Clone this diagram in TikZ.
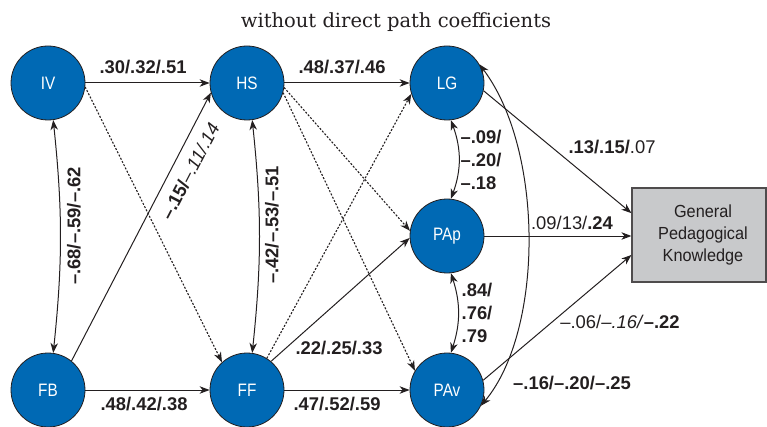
\documentclass[tikz,border=0pt]{standalone}
\usepackage{fontspec}
\setsansfont{Liberation Sans}
\newfontfamily\condfont{Liberation Sans}[FakeStretch=0.85]
\newfontfamily\boxfont{Liberation Sans}[FakeStretch=0.93]
\newfontfamily\subfont{DejaVu Serif}
\usetikzlibrary{arrows.meta,calc}
\definecolor{nodeblue}{RGB}{0,105,180}
\definecolor{boxgray}{RGB}{200,201,203}
\definecolor{txt}{RGB}{35,31,32}
\tikzset{
  var/.style={circle,draw=txt,line width=0.8pt,fill=nodeblue,minimum size=74pt,inner sep=0pt,
    text=white,font=\condfont\fontsize{18}{20}\selectfont},
  tip/.style={-{Stealth[length=10pt,width=7.5pt,inset=3pt]}},
  arr/.style={tip,line width=1pt,draw=txt},
  dotarr/.style={tip,line width=1.1pt,draw=txt,dash pattern=on 2pt off 1.6pt},
  dbl/.style={{Stealth[length=10pt,width=7.5pt,inset=3pt]}-{Stealth[length=10pt,width=7.5pt,inset=3pt]},line width=1pt,draw=txt},
  coef/.style={inner sep=0pt,text=txt,font=\sffamily\fontsize{18.4}{23}\selectfont},
  coefb/.style={inner sep=0pt,text=txt,font=\sffamily\bfseries\fontsize{18.4}{23}\selectfont},
}
\begin{document}
\begin{tikzpicture}[x=1pt,y=1pt]
\useasboundingbox (0,0) rectangle (767,426);
% subtitle
\node[inner sep=0pt,text=txt,font=\subfont\fontsize{19.5}{22}\selectfont] (sub) at (396,404) {without direct path coefficients};
% variables
\node[var] (IV) at (48,343) {IV};
\node[var] (HS) at (247,343) {HS};
\node[var] (LG) at (447,343) {LG};
\node[var] (PAp) at (447,190) {PAp};
\node[var] (FB) at (48,36) {FB};
\node[var] (FF) at (247,36) {FF};
\node[var] (PAv) at (447,36) {PAv};
\node[draw=txt!80,line width=1.2pt,fill=boxgray,minimum width=134pt,minimum height=94pt,
  align=center,text=txt,font=\boxfont\fontsize{17.5}{22}\selectfont] (GPK) at (699,191)
  {\hspace*{8pt}General\\\hspace*{8pt}Pedagogical\\\hspace*{8pt}Knowledge};
\coordinate (g1) at ($(GPK.north west)!0.27!(GPK.south west)$);
\coordinate (g3) at ($(GPK.north west)!0.71!(GPK.south west)$);
% paths
\draw[arr] (IV) -- (HS);
\draw[arr] (HS) -- (LG);
\draw[arr] (FB) -- (FF);
\draw[arr] (FF) -- (PAv);
\draw[dotarr] (IV.-6) -- (FF.132);
\draw[arr] (FB.51) -- (HS.195);
\draw[dotarr] (HS.-7) -- (PAp.172);
\draw[dotarr] (HS.-15) -- (PAv.149);
\draw[dotarr] (FF.58) -- (LG.197);
\draw[arr] (FF.50) -- (PAp.183);
\draw[arr] (LG.-12) -- (g1);
\draw[arr] (PAp) -- (PAp -| GPK.west);
\draw[arr] (PAv.15) -- (g3);
% correlations
\draw[dbl] (IV.-82) to[bend left=6] (FB.82);
\draw[dbl] (HS.-82) to[bend left=6] (FF.82);
\draw[dbl] (LG.-84) to[bend left=20] (PAp.84);
\draw[dbl] (PAp.-84) to[bend left=18] (PAv.84);
\draw[dbl] (LG.30) .. controls (544,276) and (544,96) .. (PAv.-25);
% coefficients
\node[coefb] (c1) at (143,359) {.30/.32/.51};
\node[coefb] (c2) at (342,359) {.48/.37/.46};
\node[coefb] (c3) at (144,22) {.48/.42/.38};
\node[coefb] (c4) at (337,22) {.47/.52/.59};
\node[coefb] (c5) at (339,78) {.22/.25/.33};
\node[coefb,rotate=90] (c6) at (74,200) {–.68/–.59/–.62};
\node[coefb,rotate=90] (c7) at (272,201) {–.42/–.53/–.51};
\node[coef,rotate=62.5] (c8) at (190,255) {\textbf{–.15/}\textit{–.11/.14}};
\node[coefb,align=left] (c9) at (481,266) {–.09/\\–.20/\\–.18};
\node[coefb,align=left] (c10) at (477,113) {.84/\\.76/\\.79};
\node[coef] (c11) at (612,279) {\textbf{.13/.15/}.07};
\node[coef] (c12) at (572,203) {.09/13/\textbf{.24}};
\node[coef] (c13) at (620,104) {–.06/\textit{–.16/}\textbf{–.22}};
\node[coefb] (c14) at (572,43) {–.16/–.20/–.25};
\end{tikzpicture}
\end{document}
